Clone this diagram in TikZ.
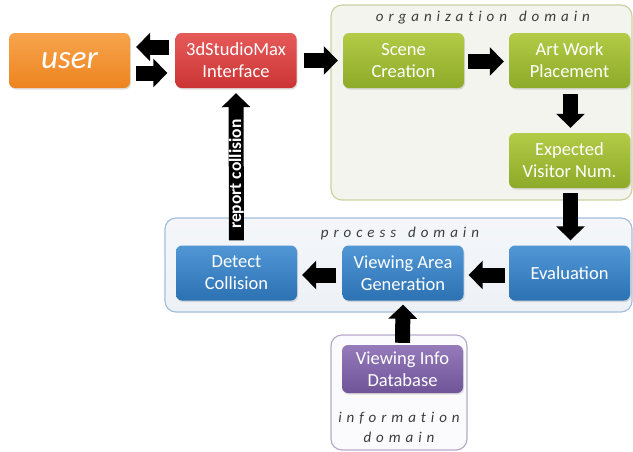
\documentclass[tikz,border=0pt]{standalone}
\usepackage{fontspec}
\setmainfont{Carlito}
\newfontfamily\domainfont[LetterSpace=33,Ligatures={NoCommon}]{Carlito}
\usetikzlibrary{arrows.meta,shadows}
\definecolor{orgtop}{HTML}{F8A44C}
\definecolor{orgbot}{HTML}{EC8420}
\definecolor{redtop}{HTML}{E65A5A}
\definecolor{redbot}{HTML}{CC3434}
\definecolor{grntop}{HTML}{B3CB47}
\definecolor{grnbot}{HTML}{8DAA28}
\definecolor{blutop}{HTML}{5197D6}
\definecolor{blubot}{HTML}{2C72B3}
\definecolor{purtop}{HTML}{957BBA}
\definecolor{purbot}{HTML}{6F5499}
\definecolor{orgfill}{HTML}{F4F4EE}
\definecolor{orgline}{HTML}{C9D3A0}
\definecolor{prcfill}{HTML}{EDF1F6}
\definecolor{prcline}{HTML}{A5BEDD}
\definecolor{inffill}{HTML}{FBFAFC}
\definecolor{infline}{HTML}{B7AACD}
\definecolor{titlegray}{HTML}{3C3C3C}
\tikzset{
  box/.style={rounded corners=6pt, minimum width=121pt, minimum height=55pt,
    align=center, text=white, font=\fontsize{18.5}{22}\selectfont, inner sep=2pt,
    drop shadow={opacity=0.25, shadow xshift=1pt, shadow yshift=-1.5pt}},
  orangebox/.style={box, top color=orgtop, bottom color=orgbot},
  redbox/.style={box, top color=redtop, bottom color=redbot},
  greenbox/.style={box, top color=grntop, bottom color=grnbot},
  bluebox/.style={box, top color=blutop, bottom color=blubot},
  purplebox/.style={box, top color=purtop, bottom color=purbot, minimum height=48pt},
  domainbox/.style={rounded corners=11pt, line width=1.2pt, inner sep=0pt},
  domaintitle/.style={font=\domainfont\itshape\fontsize{15}{19}\selectfont, text=titlegray, inner sep=0pt, align=center},
  barrow/.style={line width=15pt, draw=black, -{Triangle[width=28pt,length=14pt]}},
}
\begin{document}
\begin{tikzpicture}[x=1pt,y=-1pt]
\useasboundingbox (0,0) rectangle (633,451);
% containers
\node[domainbox, draw=orgline, fill=orgfill, minimum width=301pt, minimum height=195pt] (orgdom) at (481.5,102.5) {};
\node[domainbox, draw=prcline, top color=prcfill!60!white, bottom color=prcfill, minimum width=467pt, minimum height=94pt] (prcdom) at (398.5,265) {};
\node[domainbox, draw=infline, fill=inffill, minimum width=136pt, minimum height=115pt] (infdom) at (399,392.5) {};
\node[domaintitle] (orgtitle) at (483,18) {organization\kern12pt domain};
\node[domaintitle] (prctitle) at (400,233) {process\kern12pt domain};
\node[domaintitle] (inftitle) at (399,418) {information};
\node[domaintitle] (inftitle2) at (399,437) {domain};
% boxes
\node[orangebox, font=\fontsize{33}{36}\selectfont\itshape] (user) at (69.5,60.5) {user};
\node[redbox] (max) at (236,60.5) {3dStudioMax\\Interface};
\node[greenbox] (scene) at (403.5,60.5) {Scene\\Creation};
\node[greenbox] (art) at (569.5,60.5) {Art Work\\Placement};
\node[greenbox] (exp) at (569.5,160.5) {Expected\\Visitor Num.};
\node[bluebox] (eval) at (569.5,273) {Evaluation};
\node[bluebox] (view) at (403,273) {Viewing Area\\Generation};
\node[bluebox] (detect) at (236.5,273) {Detect\\Collision};
\node[purplebox] (db) at (402.5,369) {Viewing Info\\Database};
% arrows
\draw[barrow] ([xshift=-6pt,yshift=13.5pt]max.west) -- ([xshift=6pt,yshift=13.5pt]user.east);
\draw[barrow] ([xshift=6pt,yshift=-12.5pt]user.east) -- ([xshift=-8pt,yshift=-12.5pt]max.west);
\draw[barrow] ([xshift=7pt]max.east) -- ([xshift=-5pt]scene.west);
\draw[barrow] ([xshift=4pt,yshift=-1pt]scene.east) -- ([xshift=-5pt,yshift=-1pt]art.west);
\draw[barrow] ([xshift=1pt,yshift=-6pt]art.south) -- ([xshift=1pt,yshift=5pt]exp.north);
\draw[barrow] ([xshift=1pt,yshift=-5pt]exp.south) -- ([xshift=1pt,yshift=5pt]eval.north);
\draw[barrow] ([xshift=-4pt,yshift=-2pt]eval.west) -- ([xshift=5pt,yshift=-2pt]view.east);
\draw[barrow] ([xshift=-6pt,yshift=-2pt]view.west) -- ([xshift=5pt,yshift=-2pt]detect.east);
\draw[barrow] ([yshift=2pt]db.north) -- ([yshift=-4pt]view.south);
\draw[barrow, line width=15pt] ([yshift=5pt]detect.north) -- ([yshift=-5pt]max.south)
  node[pos=0.45, rotate=90, text=white, font=\bfseries\fontsize{17.5}{20}\selectfont, inner sep=0pt] (rep) {report collision};
\end{tikzpicture}
\end{document}
